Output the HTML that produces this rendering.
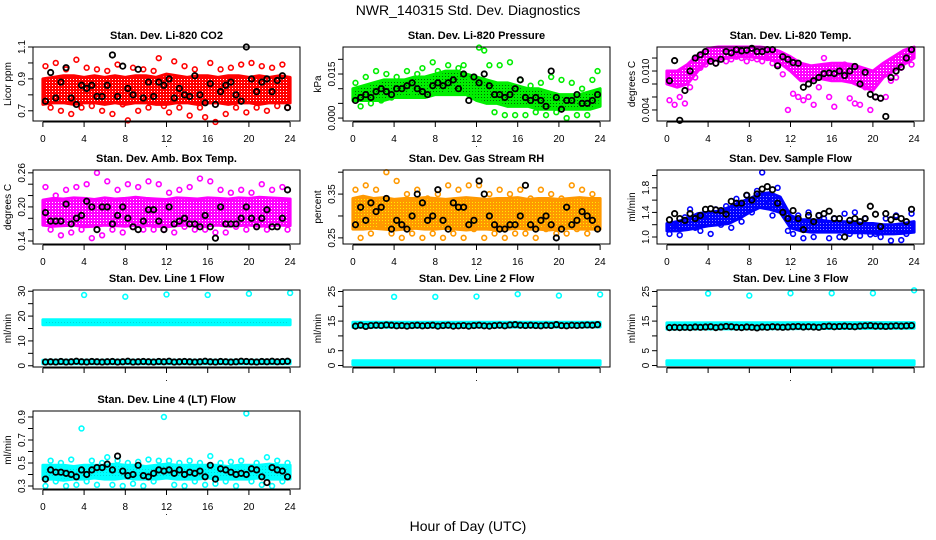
<!DOCTYPE html>
<html><head><meta charset="utf-8"><title>NWR_140315 Std. Dev. Diagnostics</title>
<style>
html,body{margin:0;padding:0;background:#fff;}
svg{display:block;font-family:"Liberation Sans",Arial,sans-serif;}
</style></head>
<body>
<svg id="chart" width="936" height="540" viewBox="0 0 936 540">
<text x="468" y="15" text-anchor="middle" font-size="14">NWR_140315  Std. Dev. Diagnostics</text>
<text x="468" y="531" text-anchor="middle" font-size="14">Hour of Day (UTC)</text>
<g id="panels"></g>
</svg>
<script>
const halfHours = [0.25,0.75,1.25,1.75,2.25,2.75,3.25,3.75,4.25,4.75,5.25,5.75,6.25,6.75,7.25,7.75,8.25,8.75,9.25,9.75,10.25,10.75,11.25,11.75,12.25,12.75,13.25,13.75,14.25,14.75,15.25,15.75,16.25,16.75,17.25,17.75,18.25,18.75,19.25,19.75,20.25,20.75,21.25,21.75,22.25,22.75,23.25,23.75];
const bandHours = [0,1,2,3,4,5,6,7,8,9,10,11,12,13,14,15,16,17,18,19,20,21,22,23,24];
const flatHours = [0,24];
const spikeHours = [4,8,12,16,20,24];
const xTicks = [0,4,8,12,16,20,24];

// Panel 1: CO2
const co2Lo = [0.74,0.75,0.75,0.74,0.75,0.75,0.74,0.75,0.74,0.75,0.75,0.74,0.74,0.75,0.75,0.74,0.75,0.75,0.74,0.75,0.75,0.74,0.75,0.75,0.75];
const co2Hi = [0.90,0.91,0.92,0.92,0.91,0.92,0.91,0.92,0.91,0.92,0.92,0.91,0.93,0.92,0.91,0.92,0.92,0.91,0.92,0.92,0.91,0.92,0.91,0.92,0.91];
const co2Out = [0.98,0.72,1.0,0.70,0.96,0.68,1.02,0.72,0.97,0.73,0.96,0.70,0.95,0.68,0.99,0.74,0.64,0.97,0.70,0.96,0.72,0.95,1.03,0.73,0.69,1.01,0.72,0.98,0.67,0.96,0.72,0.66,1.0,0.63,0.96,0.68,0.97,0.72,0.99,0.69,1.0,0.72,0.98,0.70,0.97,0.73,0.99,0.72];
const co2Blk = [0.76,0.94,0.78,0.88,0.97,0.78,0.74,0.86,0.84,0.86,0.79,0.79,0.86,1.05,0.79,0.98,0.84,0.80,0.96,0.78,0.88,0.79,0.88,0.86,0.90,0.78,0.84,0.80,0.79,0.92,0.80,0.75,0.87,0.74,0.82,0.86,0.88,0.80,0.76,1.10,0.90,0.82,0.88,0.90,0.82,0.89,0.92,0.72];
// Panel 2: pressure
const presLo = [.006,.006,.006,.006,.007,.007,.007,.007,.008,.008,.008,.008,.006,.005,.005,.004,.004,.004,.003,.003,.003,.003,.003,.003,.004];
const presHi = [.010,.011,.012,.013,.013,.013,.014,.014,.015,.016,.016,.015,.014,.013,.012,.012,.011,.010,.010,.009,.008,.008,.008,.009,.010];
const presOut = [.012,.004,.014,.005,.016,.006,.015,.007,.014,.008,.016,.009,.015,.017,.010,.019,.016,.009,.018,.010,.017,.018,.014,.009,.024,.023,.018,.002,.018,.001,.019,.001,.013,.001,.011,.002,.012,.001,.014,.002,.013,.000,.012,.001,.010,.001,.013,.016];
const presBlk = [.006,.007,.008,.007,.009,.010,.009,.008,.010,.010,.011,.012,.010,.009,.008,.011,.012,.011,.012,.013,.010,.015,.006,.014,.012,.015,.011,.008,.008,.007,.008,.010,.013,.007,.006,.007,.006,.004,.016,.007,.003,.006,.006,.008,.005,.005,.006,.008];
// Panel 3: Li-820 temp
const tmpLo = [.0080,.0075,.0080,.0100,.0115,.0118,.0120,.0122,.0122,.0120,.0118,.0112,.0100,.0085,.0085,.0088,.0085,.0085,.0082,.0075,.0070,.0090,.0100,.0110,.0120];
const tmpHi = [.0100,.0100,.0110,.0125,.0135,.0137,.0137,.0137,.0137,.0137,.0135,.0130,.0122,.0112,.0108,.0110,.0112,.0112,.0110,.0105,.0100,.0112,.0122,.0132,.0137];
const tmpOut = [.0055,.0048,.0060,.0050,.0075,.0090,.0105,.0110,.0115,.0112,.0118,.0115,.0118,.0122,.0120,.0115,.0120,.0118,.0115,.0120,.0112,.0110,.0095,.0040,.0065,.0060,.0055,.0060,.0048,.0075,.0120,.0060,.0045,.0105,.0110,.0058,.0050,.0048,.0075,.0040,.0060,.0058,.0060,.0085,.0090,.0105,.0115,.0110];
const tmpBlk = [.0085,.0116,.0024,.0070,.0100,.0120,.0125,.0130,.0115,.0112,.0118,.0130,.0128,.0133,.0131,.0132,.0135,.0130,.0130,.0133,.0133,.0108,.0122,.0118,.0113,.0112,.0075,.0080,.0085,.0090,.0096,.0097,.0096,.0100,.0093,.0100,.0107,.0080,.0098,.0064,.0060,.0058,.0030,.0090,.0100,.0106,.0120,.0133];
// Panel 4: amb box temp
const ambLo = [.168,.166,.167,.168,.165,.166,.168,.167,.166,.168,.167,.166,.165,.167,.168,.166,.167,.168,.166,.167,.168,.166,.167,.168,.167];
const ambHi = [.212,.215,.214,.216,.215,.213,.216,.214,.215,.217,.215,.214,.213,.216,.215,.214,.216,.215,.214,.216,.215,.217,.216,.215,.214];
const ambOut = [.235,.16,.22,.15,.23,.155,.235,.16,.24,.145,.26,.15,.245,.16,.23,.155,.24,.165,.235,.16,.245,.16,.24,.16,.225,.155,.23,.165,.235,.16,.25,.16,.245,.155,.23,.155,.225,.165,.23,.16,.225,.165,.24,.16,.23,.165,.235,.16];
const ambBlk = [.19,.175,.175,.175,.205,.17,.18,.185,.21,.2,.16,.2,.2,.17,.185,.2,.18,.165,.16,.175,.195,.195,.175,.16,.2,.17,.175,.18,.17,.17,.165,.185,.165,.145,.2,.17,.17,.17,.18,.2,.18,.165,.18,.195,.165,.165,.18,.23];
// Panel 5: RH
const rhLo = [.27,.27,.272,.27,.268,.27,.272,.27,.27,.272,.27,.268,.27,.27,.268,.27,.272,.27,.27,.268,.27,.272,.27,.27,.27];
const rhHi = [.34,.345,.34,.342,.338,.34,.34,.342,.34,.338,.34,.342,.34,.338,.34,.34,.342,.338,.34,.34,.338,.34,.342,.34,.34];
const rhOut = [.36,.25,.37,.26,.36,.28,.40,.26,.38,.25,.35,.26,.36,.25,.34,.26,.35,.25,.37,.26,.36,.25,.37,.27,.37,.25,.35,.26,.36,.25,.35,.26,.36,.26,.34,.25,.36,.27,.35,.26,.34,.26,.37,.27,.36,.26,.35,.27];
const rhBlk = [.28,.32,.29,.33,.31,.32,.34,.27,.29,.28,.27,.30,.35,.33,.29,.30,.36,.29,.27,.33,.32,.32,.28,.29,.38,.35,.30,.28,.27,.27,.28,.28,.30,.37,.28,.27,.29,.30,.28,.25,.27,.32,.28,.29,.31,.30,.29,.27];
// Panel 6: sample flow
const sfLo = [1.10,1.10,1.12,1.15,1.18,1.20,1.22,1.30,1.40,1.48,1.45,1.40,1.15,1.10,1.08,1.08,1.08,1.08,1.07,1.07,1.06,1.05,1.05,1.06,1.08];
const sfHi = [1.22,1.25,1.30,1.38,1.40,1.42,1.48,1.56,1.62,1.70,1.72,1.65,1.35,1.28,1.28,1.27,1.25,1.25,1.24,1.22,1.22,1.20,1.20,1.22,1.25];
const sfOut = [1.05,1.20,1.03,1.32,1.45,1.15,1.10,1.35,1.05,1.45,1.20,1.50,1.15,1.62,1.25,1.68,1.40,1.75,2.05,1.60,1.35,1.80,1.45,1.10,1.05,1.35,0.98,1.40,1.00,1.35,1.30,0.98,1.30,1.00,1.38,1.05,1.40,1.02,1.30,1.04,1.05,1.00,1.30,0.94,1.35,0.95,1.05,1.38];
const sfBlk = [1.28,1.38,1.30,1.27,1.38,1.30,1.35,1.45,1.46,1.44,1.43,1.37,1.58,1.55,1.55,1.68,1.60,1.70,1.78,1.82,1.77,1.55,1.40,1.30,1.43,1.30,1.12,1.35,1.25,1.35,1.38,1.42,1.30,1.30,1.00,1.27,1.30,1.25,1.30,1.50,1.37,1.17,1.38,1.28,1.33,1.30,1.25,1.45];
// Panel 7: line 1
const l1Lo = [16.5,16.5]; const l1Hi = [18.5,18.5];
const l1Lo2 = [0.8,0.8]; const l1Hi2 = [2.2,2.2];
const l1Spike = [28.5,27.8,28.7,28.5,29.0,29.3];
const l1Blk = [1.5,1.6,1.5,1.7,1.5,1.6,1.8,1.6,1.5,1.7,1.6,1.5,1.6,1.7,1.5,1.6,1.8,1.5,1.6,1.7,1.6,1.5,1.7,1.6,1.8,1.5,1.6,1.7,1.6,1.5,1.6,1.8,1.6,1.5,1.7,1.6,1.5,1.6,1.8,1.7,1.6,1.5,1.7,1.6,1.8,1.6,1.7,1.8];
// Panel 8: line 2
const l2Lo = [12.9,13.0]; const l2Hi = [14.6,14.6];
const l2Lo2 = [0.3,0.3]; const l2Hi2 = [1.6,1.6];
const l2Spike = [23.2,23.2,23.3,24.1,23.6,24.0];
const l2Blk = [13.3,13.6,13.2,13.5,13.6,13.5,13.7,13.6,13.4,13.5,13.3,13.5,13.6,13.4,13.5,13.6,13.3,13.5,13.6,13.3,13.4,13.5,13.3,13.5,13.6,13.4,13.3,13.5,13.6,13.4,13.7,13.8,13.6,13.5,13.6,13.5,13.4,13.6,13.5,13.8,13.5,13.4,13.6,13.5,13.6,13.7,13.6,13.8];
// Panel 9: line 3
const l3Lo = [12.3,12.6]; const l3Hi = [14.4,14.5];
const l3Lo2 = [0.3,0.3]; const l3Hi2 = [1.6,1.6];
const l3Spike = [24.3,23.6,24.4,24.4,24.4,25.4];
const l3Blk = [12.8,12.9,12.8,12.9,12.8,13.0,12.9,13.0,13.1,12.8,13.0,13.2,13.1,12.9,12.8,13.0,12.9,12.7,13.0,12.9,13.1,13.0,12.9,13.0,13.1,13.2,13.0,13.1,13.0,12.9,13.2,13.3,13.1,13.2,13.3,13.2,13.1,13.3,13.4,13.5,13.3,13.3,13.2,13.3,13.4,13.3,13.4,13.5];
// Panel 10: line 4
const l4Lo = [.36,.36,.35,.36,.36,.37,.36,.36,.37,.36,.36,.36,.37,.36,.36,.36,.37,.36,.36,.36,.36,.37,.36,.36,.36];
const l4Hi = [.48,.48,.48,.47,.48,.48,.48,.49,.48,.48,.47,.48,.49,.48,.48,.48,.48,.48,.47,.48,.48,.48,.49,.48,.48];
const l4Out = [.30,.52,.34,.50,.30,.53,.31,.80,.34,.52,.31,.50,.55,.31,.52,.30,.50,.32,.51,.30,.53,.34,.52,.90,.52,.31,.50,.30,.52,.34,.50,.31,.56,.32,.50,.34,.51,.30,.52,.93,.34,.50,.31,.55,.30,.52,.34,.50];
const l4Blk = [.36,.44,.42,.42,.41,.40,.38,.44,.40,.44,.46,.46,.49,.44,.56,.43,.39,.40,.48,.39,.38,.41,.44,.43,.44,.41,.44,.40,.42,.41,.43,.38,.48,.36,.45,.44,.42,.40,.41,.40,.45,.44,.38,.33,.46,.44,.43,.38];

const NS = "http://www.w3.org/2000/svg";
const root = document.getElementById("panels");
function el(tag, attrs, parent){ const e=document.createElementNS(NS,tag); for(const k in attrs) e.setAttribute(k,attrs[k]); parent.appendChild(e); return e; }

const cols = [[33,300],[343,610],[657,924]];
const rows = [[47,121],[170,244],[290,367],[411,489]];

const panels = [
 {key:"co2",title:"Stan. Dev. Li-820 CO2",ylab:"Licor ppm",c:0,r:0,dom:[0.636,1.10],ticks:[0.7,0.8,0.9,1.0,1.1],labels:["0.7","","0.9","","1.1"],col:"#ff0000",dot:"#ffffff",bands:[[bandHours,co2Lo,co2Hi]],outX:halfHours,outY:co2Out,blk:co2Blk},
 {key:"pressure",title:"Stan. Dev. Li-820 Pressure",ylab:"kPa",c:1,r:0,dom:[-0.001,0.0242],ticks:[0,0.005,0.01,0.015,0.02],labels:["0.000","","","0.015",""],col:"#00ee00",dot:"#006600",bands:[[bandHours,presLo,presHi]],outX:halfHours,outY:presOut,blk:presBlk},
 {key:"temp",title:"Stan. Dev. Li-820 Temp.",ylab:"degrees C",c:2,r:0,dom:[0.0023,0.0137],ticks:[0.004,0.006,0.008,0.010,0.012],labels:["0.004","","","0.010",""],col:"#ff00ff",dot:"#ffffff",bands:[[bandHours,tmpLo,tmpHi]],outX:halfHours,outY:tmpOut,blk:tmpBlk},
 {key:"amb-box",title:"Stan. Dev. Amb. Box Temp.",ylab:"degrees C",c:0,r:1,dom:[0.1347,0.265],ticks:[0.14,0.16,0.18,0.20,0.22,0.24,0.26],labels:["0.14","","","0.20","","","0.26"],col:"#ff00ff",dot:"#ffffff",bands:[[bandHours,ambLo,ambHi]],outX:halfHours,outY:ambOut,blk:ambBlk},
 {key:"rh",title:"Stan. Dev. Gas Stream RH",ylab:"percent",c:1,r:1,dom:[0.236,0.405],ticks:[0.25,0.30,0.35,0.40],labels:["0.25","","0.35",""],col:"#ff9900",dot:"#ffee00",bands:[[bandHours,rhLo,rhHi]],outX:halfHours,outY:rhOut,blk:rhBlk},
 {key:"sample-flow",title:"Stan. Dev. Sample Flow",ylab:"ml/min",c:2,r:1,dom:[0.886,2.09],ticks:[1.0,1.2,1.4,1.6,1.8,2.0],labels:["1.0","","1.4","","1.8",""],col:"#0000ff",dot:"#8888ff",bands:[[bandHours,sfLo,sfHi]],outX:halfHours,outY:sfOut,blk:sfBlk},
 {key:"line1",title:"Stan. Dev. Line 1 Flow",ylab:"ml/min",c:0,r:2,dom:[-0.5,30.5],ticks:[0,5,10,15,20,25,30],labels:["0","","10","","20","","30"],col:"#00ffff",dot:"#00d8d8",bands:[[flatHours,l1Lo,l1Hi],[flatHours,l1Lo2,l1Hi2]],outX:spikeHours,outY:l1Spike,blk:l1Blk,noX:true},
 {key:"line2",title:"Stan. Dev. Line 2 Flow",ylab:"ml/min",c:1,r:2,dom:[-0.5,25.5],ticks:[0,5,10,15,20,25],labels:["0","5","","15","","25"],col:"#00ffff",dot:"#00d8d8",bands:[[flatHours,l2Lo,l2Hi],[flatHours,l2Lo2,l2Hi2]],outX:spikeHours,outY:l2Spike,blk:l2Blk,noX:true},
 {key:"line3",title:"Stan. Dev. Line 3 Flow",ylab:"ml/min",c:2,r:2,dom:[-0.5,25.5],ticks:[0,5,10,15,20,25],labels:["0","5","","15","","25"],col:"#00ffff",dot:"#00d8d8",bands:[[flatHours,l3Lo,l3Hi],[flatHours,l3Lo2,l3Hi2]],outX:spikeHours,outY:l3Spike,blk:l3Blk,noX:true},
 {key:"line4",title:"Stan. Dev. Line 4 (LT) Flow",ylab:"ml/min",c:0,r:3,dom:[0.274,0.952],ticks:[0.3,0.4,0.5,0.6,0.7,0.8,0.9],labels:["0.3","","0.5","","0.7","","0.9"],col:"#00ffff",dot:"#00d8d8",bands:[[bandHours,l4Lo,l4Hi]],outX:halfHours,outY:l4Out,blk:l4Blk}
];

const defs = el("defs",{},document.getElementById("chart"));

panels.forEach(p=>{
  const [x0,x1]=cols[p.c], [y0,y1]=rows[p.r];
  const sx = v => x0 + (v+0.96)/(25.92)*(x1-x0);
  const sy = v => y1 - (v-p.dom[0])/(p.dom[1]-p.dom[0])*(y1-y0);
  const g = el("g",{},root);
  
  

  const pat = el("pattern",{id:"pat-"+p.key,width:3,height:3,patternUnits:"userSpaceOnUse"},defs);
  el("rect",{width:3,height:3,fill:p.col},pat);
  el("rect",{x:1,y:1,width:1,height:1,fill:p.dot},pat);

  const t = el("text",{x:(x0+x1)/2,y:y0-8,"text-anchor":"middle","font-size":"11","font-weight":"bold"},g);
  t.textContent=p.title;
  
  

  p.bands.forEach(b=>{
    const [hx,lo,hi]=b;
    let pts=[];
    for(let i=0;i<hx.length;i++) pts.push(sx(hx[i])+","+sy(hi[i]));
    for(let i=hx.length-1;i>=0;i--) pts.push(sx(hx[i])+","+sy(lo[i]));
    const poly = el("polygon",{points:pts.join(" "),fill:"url(#pat-"+p.key+")",stroke:p.col,"stroke-width":"3","stroke-linejoin":"round"},g);
    
    
  });
  p.outY.forEach((v,i)=>{
    const c = el("circle",{cx:sx(p.outX[i]),cy:sy(v),r:2.4,fill:"none",stroke:p.col,"stroke-width":"1.6"},g);
    
    
  });
  p.blk.forEach((v,i)=>{
    const c = el("circle",{cx:sx(halfHours[i]),cy:sy(v),r:2.7,fill:"none",stroke:"#000","stroke-width":"1.8"},g);
    
    
  });

  const box = el("rect",{x:x0,y:y0,width:x1-x0,height:y1-y0,fill:"none",stroke:"#000","stroke-width":"1"},g);
  
  

  const xa = el("g",{},g);
  
  
  el("line",{x1:sx(0),x2:sx(24),y1:y1+1,y2:y1+1,stroke:"#000"},xa);
  xTicks.forEach(v=>{
    el("line",{x1:sx(v),x2:sx(v),y1:y1+1,y2:y1+6,stroke:"#000"},xa);
    if(!p.noX){
      const tl = el("text",{x:sx(v),y:y1+21,"text-anchor":"middle","font-size":"10"},xa);
      tl.textContent=String(v);
      
      
    }
  });
  const ya = el("g",{},g);
  
  
  const yt = p.ticks.filter(v=>sy(v)>=y0-1 && sy(v)<=y1+1);
  el("line",{x1:x0,x2:x0,y1:sy(yt[0]),y2:sy(yt[yt.length-1]),stroke:"#000"},ya);
  p.ticks.forEach((v,i)=>{
    const y=sy(v); if(y<y0-1||y>y1+1) return;
    el("line",{x1:x0-5,x2:x0,y1:y,y2:y,stroke:"#000"},ya);
    if(p.labels[i]){
      const tl = el("text",{x:0,y:0,"text-anchor":"middle","font-size":"10",transform:"translate("+(x0-8)+","+y+") rotate(-90)"},ya);
      tl.textContent=p.labels[i];
      
      
    }
  });
  const yl = el("text",{x:0,y:0,"text-anchor":"middle","font-size":"10",transform:"translate("+(x0-22)+","+((y0+y1)/2)+") rotate(-90)"},g);
  yl.textContent=p.ylab;
  
  
  const dot = el("text",{x:(x0+x1)/2,y:y1+(p.noX?14:26),"text-anchor":"middle","font-size":"9"},g);
  dot.textContent=".";
  
  
});
</script>
</body></html>
